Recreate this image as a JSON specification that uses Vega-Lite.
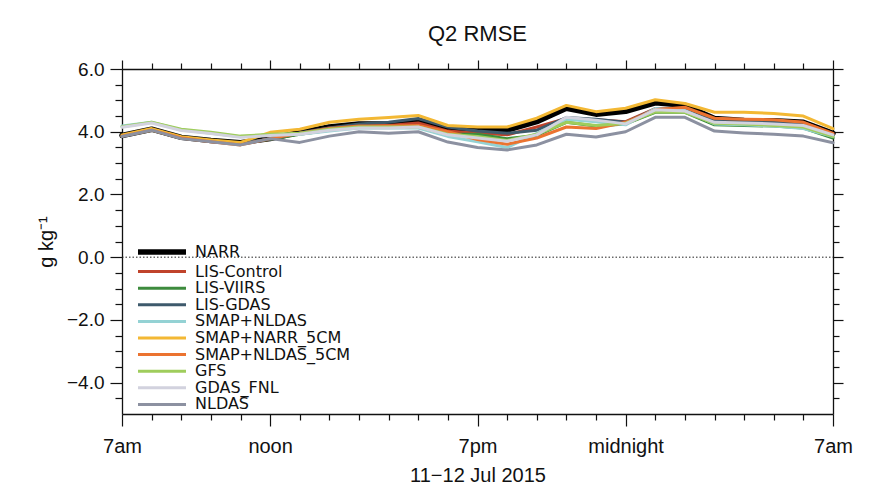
{
  "$schema": "https://vega.github.io/schema/vega-lite/v6.json",
  "width": 711,
  "height": 345,
  "autosize": {"type": "none"},
  "padding": {"left": 122, "top": 69, "right": 46, "bottom": 76},
  "background": "white",
  "title": {"text": "Q2 RMSE", "fontSize": 22, "font": "Liberation Sans", "fontWeight": "normal", "offset": 13, "color": "#111"},
  "config": {
    "view": {"stroke": null},
    "axis": {"domainColor": "#111", "tickColor": "#111", "labelFont": "Liberation Sans", "titleFont": "Liberation Sans", "grid": false, "domainWidth": 1.3, "tickWidth": 1.2, "labelColor": "#111", "titleColor": "#111", "titleFontWeight": "normal"}
  },
  "datasets": {
    "rows": [
      {"hour": 0, "NARR": 3.88, "LIS-Control": 3.86, "LIS-VIIRS": 3.86, "LIS-GDAS": 3.87, "SMAP+NLDAS": 4.18, "SMAP+NARR_5CM": 3.90, "SMAP+NLDAS_5CM": 3.86, "GFS": 4.16, "GDAS_FNL": 4.14, "NLDAS": 3.85},
      {"hour": 1, "NARR": 4.08, "LIS-Control": 4.06, "LIS-VIIRS": 4.05, "LIS-GDAS": 4.07, "SMAP+NLDAS": 4.30, "SMAP+NARR_5CM": 4.10, "SMAP+NLDAS_5CM": 4.05, "GFS": 4.30, "GDAS_FNL": 4.28, "NLDAS": 4.05},
      {"hour": 2, "NARR": 3.82, "LIS-Control": 3.80, "LIS-VIIRS": 3.80, "LIS-GDAS": 3.81, "SMAP+NLDAS": 4.06, "SMAP+NARR_5CM": 3.84, "SMAP+NLDAS_5CM": 3.80, "GFS": 4.08, "GDAS_FNL": 4.04, "NLDAS": 3.78},
      {"hour": 3, "NARR": 3.72, "LIS-Control": 3.70, "LIS-VIIRS": 3.70, "LIS-GDAS": 3.71, "SMAP+NLDAS": 3.95, "SMAP+NARR_5CM": 3.74, "SMAP+NLDAS_5CM": 3.68, "GFS": 3.98, "GDAS_FNL": 3.94, "NLDAS": 3.68},
      {"hour": 4, "NARR": 3.65, "LIS-Control": 3.62, "LIS-VIIRS": 3.63, "LIS-GDAS": 3.64, "SMAP+NLDAS": 3.84, "SMAP+NARR_5CM": 3.66, "SMAP+NLDAS_5CM": 3.58, "GFS": 3.86, "GDAS_FNL": 3.82, "NLDAS": 3.58},
      {"hour": 5, "NARR": 3.78, "LIS-Control": 3.76, "LIS-VIIRS": 3.76, "LIS-GDAS": 3.77, "SMAP+NLDAS": 3.90, "SMAP+NARR_5CM": 3.98, "SMAP+NLDAS_5CM": 3.78, "GFS": 3.92, "GDAS_FNL": 3.88, "NLDAS": 3.78},
      {"hour": 6, "NARR": 3.98, "LIS-Control": 3.95, "LIS-VIIRS": 3.92, "LIS-GDAS": 3.97, "SMAP+NLDAS": 3.92, "SMAP+NARR_5CM": 4.08, "SMAP+NLDAS_5CM": 3.95, "GFS": 3.95, "GDAS_FNL": 3.92, "NLDAS": 3.66},
      {"hour": 7, "NARR": 4.15, "LIS-Control": 4.12, "LIS-VIIRS": 4.05, "LIS-GDAS": 4.12, "SMAP+NLDAS": 4.02, "SMAP+NARR_5CM": 4.30, "SMAP+NLDAS_5CM": 4.10, "GFS": 4.08, "GDAS_FNL": 4.05, "NLDAS": 3.86},
      {"hour": 8, "NARR": 4.25, "LIS-Control": 4.20, "LIS-VIIRS": 4.15, "LIS-GDAS": 4.25, "SMAP+NLDAS": 4.12, "SMAP+NARR_5CM": 4.40, "SMAP+NLDAS_5CM": 4.18, "GFS": 4.15, "GDAS_FNL": 4.12, "NLDAS": 4.00},
      {"hour": 9, "NARR": 4.25, "LIS-Control": 4.20, "LIS-VIIRS": 4.15, "LIS-GDAS": 4.30, "SMAP+NLDAS": 4.12, "SMAP+NARR_5CM": 4.45, "SMAP+NLDAS_5CM": 4.18, "GFS": 4.15, "GDAS_FNL": 4.12, "NLDAS": 3.95},
      {"hour": 10, "NARR": 4.30, "LIS-Control": 4.28, "LIS-VIIRS": 4.18, "LIS-GDAS": 4.42, "SMAP+NLDAS": 4.12, "SMAP+NARR_5CM": 4.52, "SMAP+NLDAS_5CM": 4.20, "GFS": 4.15, "GDAS_FNL": 4.15, "NLDAS": 4.00},
      {"hour": 11, "NARR": 4.10, "LIS-Control": 4.02, "LIS-VIIRS": 3.92, "LIS-GDAS": 4.15, "SMAP+NLDAS": 3.85, "SMAP+NARR_5CM": 4.20, "SMAP+NLDAS_5CM": 4.00, "GFS": 3.92, "GDAS_FNL": 3.90, "NLDAS": 3.67},
      {"hour": 12, "NARR": 4.08, "LIS-Control": 3.95, "LIS-VIIRS": 3.92, "LIS-GDAS": 4.02, "SMAP+NLDAS": 3.68, "SMAP+NARR_5CM": 4.15, "SMAP+NLDAS_5CM": 3.75, "GFS": 3.85, "GDAS_FNL": 3.80, "NLDAS": 3.50},
      {"hour": 13, "NARR": 4.05, "LIS-Control": 3.90, "LIS-VIIRS": 3.78, "LIS-GDAS": 3.95, "SMAP+NLDAS": 3.50, "SMAP+NARR_5CM": 4.15, "SMAP+NLDAS_5CM": 3.60, "GFS": 3.72, "GDAS_FNL": 3.70, "NLDAS": 3.42},
      {"hour": 14, "NARR": 4.32, "LIS-Control": 4.15, "LIS-VIIRS": 3.88, "LIS-GDAS": 4.05, "SMAP+NLDAS": 3.95, "SMAP+NARR_5CM": 4.43, "SMAP+NLDAS_5CM": 3.80, "GFS": 3.92, "GDAS_FNL": 3.90, "NLDAS": 3.58},
      {"hour": 15, "NARR": 4.75, "LIS-Control": 4.42, "LIS-VIIRS": 4.30, "LIS-GDAS": 4.45, "SMAP+NLDAS": 4.40, "SMAP+NARR_5CM": 4.84, "SMAP+NLDAS_5CM": 4.15, "GFS": 4.30, "GDAS_FNL": 4.46, "NLDAS": 3.92},
      {"hour": 16, "NARR": 4.56, "LIS-Control": 4.38, "LIS-VIIRS": 4.18, "LIS-GDAS": 4.40, "SMAP+NLDAS": 4.32, "SMAP+NARR_5CM": 4.64, "SMAP+NLDAS_5CM": 4.10, "GFS": 4.20, "GDAS_FNL": 4.37, "NLDAS": 3.83},
      {"hour": 17, "NARR": 4.65, "LIS-Control": 4.32, "LIS-VIIRS": 4.25, "LIS-GDAS": 4.30, "SMAP+NLDAS": 4.22, "SMAP+NARR_5CM": 4.75, "SMAP+NLDAS_5CM": 4.30, "GFS": 4.27, "GDAS_FNL": 4.25, "NLDAS": 4.00},
      {"hour": 18, "NARR": 4.92, "LIS-Control": 4.74, "LIS-VIIRS": 4.62, "LIS-GDAS": 4.72, "SMAP+NLDAS": 4.74, "SMAP+NARR_5CM": 5.02, "SMAP+NLDAS_5CM": 4.70, "GFS": 4.63, "GDAS_FNL": 4.70, "NLDAS": 4.46},
      {"hour": 19, "NARR": 4.84, "LIS-Control": 4.72, "LIS-VIIRS": 4.62, "LIS-GDAS": 4.70, "SMAP+NLDAS": 4.68, "SMAP+NARR_5CM": 4.90, "SMAP+NLDAS_5CM": 4.78, "GFS": 4.62, "GDAS_FNL": 4.66, "NLDAS": 4.46},
      {"hour": 20, "NARR": 4.42, "LIS-Control": 4.38, "LIS-VIIRS": 4.22, "LIS-GDAS": 4.38, "SMAP+NLDAS": 4.25, "SMAP+NARR_5CM": 4.62, "SMAP+NLDAS_5CM": 4.43, "GFS": 4.27, "GDAS_FNL": 4.30, "NLDAS": 4.02},
      {"hour": 21, "NARR": 4.36, "LIS-Control": 4.36, "LIS-VIIRS": 4.20, "LIS-GDAS": 4.35, "SMAP+NLDAS": 4.22, "SMAP+NARR_5CM": 4.62, "SMAP+NLDAS_5CM": 4.40, "GFS": 4.25, "GDAS_FNL": 4.28, "NLDAS": 3.96},
      {"hour": 22, "NARR": 4.35, "LIS-Control": 4.34, "LIS-VIIRS": 4.18, "LIS-GDAS": 4.32, "SMAP+NLDAS": 4.18, "SMAP+NARR_5CM": 4.58, "SMAP+NLDAS_5CM": 4.38, "GFS": 4.20, "GDAS_FNL": 4.25, "NLDAS": 3.92},
      {"hour": 23, "NARR": 4.30, "LIS-Control": 4.30, "LIS-VIIRS": 4.12, "LIS-GDAS": 4.28, "SMAP+NLDAS": 4.10, "SMAP+NARR_5CM": 4.50, "SMAP+NLDAS_5CM": 4.30, "GFS": 4.15, "GDAS_FNL": 4.20, "NLDAS": 3.86},
      {"hour": 24, "NARR": 3.95, "LIS-Control": 3.92, "LIS-VIIRS": 3.80, "LIS-GDAS": 3.88, "SMAP+NLDAS": 3.85, "SMAP+NARR_5CM": 4.10, "SMAP+NLDAS_5CM": 3.95, "GFS": 3.85, "GDAS_FNL": 3.90, "NLDAS": 3.65}
    ],
    "zero": [{"x0": 0, "x1": 24, "y0": 0}]
  },
  "layer": [
    {
      "data": {"name": "rows"},
      "transform": [
        {"fold": ["NARR", "LIS-Control", "LIS-VIIRS", "LIS-GDAS", "SMAP+NLDAS", "SMAP+NARR_5CM", "SMAP+NLDAS_5CM", "GFS", "GDAS_FNL", "NLDAS"], "as": ["model", "rmse"]}
      ],
      "mark": {"type": "line", "strokeJoin": "round", "strokeCap": "round"},
      "encoding": {
        "x": {
          "field": "hour", "type": "quantitative",
          "scale": {"domain": [0, 24], "nice": false, "zero": false},
          "axis": {
            "orient": "bottom",
            "values": [0,1,2,3,4,5,6,7,8,9,10,11,12,13,14,15,16,17,18,19,20,21,22,23,24],
            "labelExpr": "datum.value == 0 ? '7am' : datum.value == 5 ? 'noon' : datum.value == 12 ? '7pm' : datum.value == 17 ? 'midnight' : datum.value == 24 ? '7am' : ''",
            "tickSize": {"condition": {"test": "indexof([0,5,12,17,24], datum.value) >= 0", "value": 12}, "value": 6},
            "labelFontSize": 20,
            "labelPadding": 10,
            "labelFlush": false,
            "labelOverlap": false,
            "title": "11\u221212 Jul 2015",
            "titleFontSize": 20,
            "titlePadding": 9
          }
        },
        "y": {
          "field": "rmse", "type": "quantitative",
          "scale": {"domain": [-5, 6], "nice": false, "zero": false},
          "axis": {
            "orient": "left",
            "values": [-4.5,-4,-3.5,-3,-2.5,-2,-1.5,-1,-0.5,0,0.5,1,1.5,2,2.5,3,3.5,4,4.5,5,5.5,6],
            "labelExpr": "datum.value % 2 == 0 ? format(datum.value, '.1f') : ''",
            "tickSize": {"condition": {"test": "datum.value % 2 == 0", "value": 12}, "value": 7},
            "labelFontSize": 19,
            "labelPadding": 6,
            "labelOverlap": false,
            "title": "g kg\u207b\u00b9",
            "titleFontSize": 20,
            "titlePadding": 10
          }
        },
        "color": {
          "field": "model", "type": "nominal",
          "scale": {
            "domain": ["NARR", "LIS-Control", "LIS-VIIRS", "LIS-GDAS", "SMAP+NLDAS", "SMAP+NARR_5CM", "SMAP+NLDAS_5CM", "GFS", "GDAS_FNL", "NLDAS"],
            "range": ["#000000", "#c0432b", "#3d8b3d", "#3e5a6c", "#94d2d4", "#f3b834", "#eb7330", "#9fcd5c", "#d2d2de", "#8c91a1"]
          },
          "legend": {
            "title": null, "orient": "none", "legendX": 31, "legendY": 174,
            "symbolType": "M-4,0H4", "symbolSize": 144,
            "labelFontSize": 16, "labelFont": "DejaVu Sans", "labelColor": "#111", "labelLimit": 0,
            "labelOffset": 24, "rowPadding": 0.6, "padding": 0
          }
        },
        "strokeWidth": {
          "field": "model", "type": "nominal",
          "scale": {
            "type": "ordinal",
            "domain": ["NARR", "LIS-Control", "LIS-VIIRS", "LIS-GDAS", "SMAP+NLDAS", "SMAP+NARR_5CM", "SMAP+NLDAS_5CM", "GFS", "GDAS_FNL", "NLDAS"],
            "range": [5.5, 3, 3, 3, 3, 3, 3, 3, 3, 3]
          },
          "legend": {
            "title": null, "orient": "none", "legendX": 31, "legendY": 174,
            "symbolType": "M-4,0H4", "symbolSize": 144,
            "labelFontSize": 16, "labelFont": "DejaVu Sans", "labelColor": "#111", "labelLimit": 0,
            "labelOffset": 24, "rowPadding": 0.6, "padding": 0
          }
        }
      }
    },
    {
      "data": {"name": "zero"},
      "mark": {"type": "rule", "strokeDash": [1.5, 2], "color": "#222", "strokeWidth": 1},
      "encoding": {
        "x": {
          "field": "x0", "type": "quantitative",
          "axis": {
            "orient": "top",
            "values": [0,1,2,3,4,5,6,7,8,9,10,11,12,13,14,15,16,17,18,19,20,21,22,23,24],
            "labels": false,
            "tickSize": {"condition": {"test": "indexof([0,5,12,17,24], datum.value) >= 0", "value": 9}, "value": 6},
            "title": null
          }
        },
        "x2": {"field": "x1"},
        "y": {
          "field": "y0", "type": "quantitative",
          "axis": {
            "orient": "right",
            "values": [-4.5,-4,-3.5,-3,-2.5,-2,-1.5,-1,-0.5,0,0.5,1,1.5,2,2.5,3,3.5,4,4.5,5,5.5,6],
            "labels": false,
            "tickSize": {"condition": {"test": "datum.value % 2 == 0", "value": 10}, "value": 6},
            "title": null
          }
        }
      }
    }
  ],
  "resolve": {"axis": {"x": "independent", "y": "independent"}}
}
